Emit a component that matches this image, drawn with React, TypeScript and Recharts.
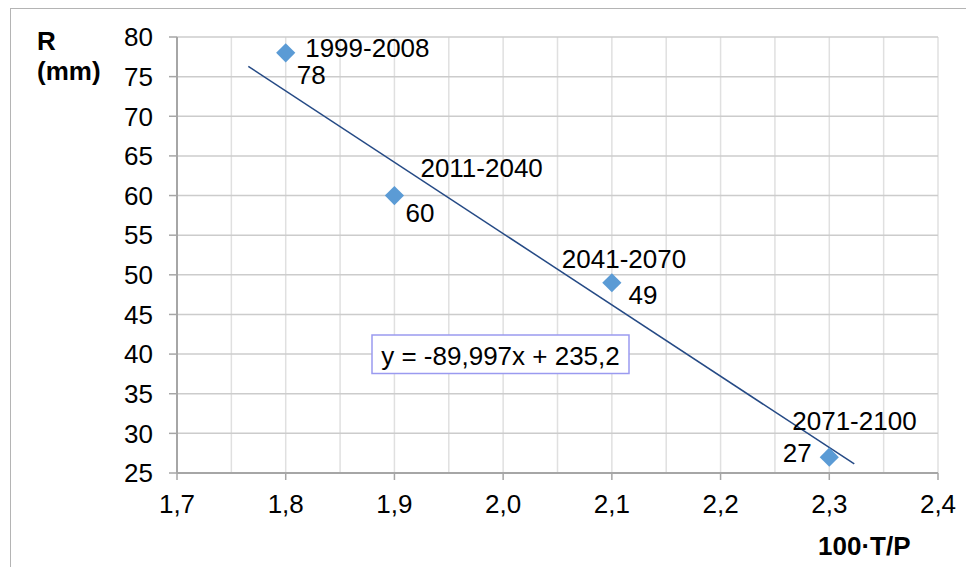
import React from "react";
import {
  ScatterChart,
  Scatter,
  XAxis,
  YAxis,
  CartesianGrid,
  ReferenceLine,
} from "recharts";

// data
const periods = ["1999-2008", "2011-2040", "2041-2070", "2071-2100"];
const tpValues = [1.8, 1.9, 2.1, 2.3];
const rValues = [78, 60, 49, 27];

const xTicks = [1.7, 1.75, 1.8, 1.85, 1.9, 1.95, 2.0, 2.05, 2.1, 2.15, 2.2, 2.25, 2.3, 2.35, 2.4];
const yTicks = [25, 30, 35, 40, 45, 50, 55, 60, 65, 70, 75, 80];

// linear trendline shown in the box
const trendSlope = -89.997;
const trendIntercept = 235.2;
const trendFrom = 1.7656;
const trendTo = 2.323;

const points = periods.map((p, i) => ({ period: p, x: tpValues[i], y: rValues[i] }));

const FONT = "'Liberation Sans', Arial, sans-serif";

// where each pair of labels sits relative to its marker
type Place = { dx: number; dy: number; anchor: "start" | "end" };
const labelPlace: Record<string, { period: Place; value: Place }> = {
  "1999-2008": { period: { dx: 19.5, dy: 3.7, anchor: "start" }, value: { dx: 11, dy: 31, anchor: "start" } },
  "2011-2040": { period: { dx: 26, dy: -19, anchor: "start" }, value: { dx: 11, dy: 26, anchor: "start" } },
  "2041-2070": { period: { dx: -50, dy: -15, anchor: "start" }, value: { dx: 16.6, dy: 21.6, anchor: "start" } },
  "2071-2100": { period: { dx: -37, dy: -26.7, anchor: "start" }, value: { dx: -17.5, dy: 5, anchor: "end" } },
};

const fmt = (v: number) => v.toFixed(1).replace(".", ",");

const DiamondPoint = (props: any) => {
  const { cx, cy, payload } = props;
  const r = 9.6;
  const pl = labelPlace[payload.period];
  return (
    <g>
      <path
        d={`M${cx},${cy - r}L${cx + r},${cy}L${cx},${cy + r}L${cx - r},${cy}Z`}
        fill="#5b9bd5"
      />
      <text x={cx + pl.period.dx} y={cy + pl.period.dy} textAnchor={pl.period.anchor} fontSize={26} fontFamily={FONT} fill="#000">
        {payload.period}
      </text>
      <text x={cx + pl.value.dx} y={cy + pl.value.dy} textAnchor={pl.value.anchor} fontSize={26} fontFamily={FONT} fill="#000">
        {payload.y}
      </text>
    </g>
  );
};

const XTick = (props: any) => {
  const { x, y, payload } = props;
  const v = payload.value as number;
  if (Math.round(v * 100) % 10 !== 0) return <g />; // minor ticks: grid only
  return (
    <g>
      <line x1={x} y1={y} x2={x} y2={y + 7} stroke="#a6a6a6" strokeWidth={1.5} />
      <text x={x} y={y + 40} textAnchor="middle" fontSize={26} fontFamily={FONT} fill="#000">
        {fmt(v)}
      </text>
    </g>
  );
};

export default function App() {
  return (
    <div style={{ position: "relative", width: 966, height: 559, overflow: "hidden", background: "#fff" }}>
      <div
        style={{
          position: "absolute",
          left: 2,
          top: 0,
          width: 970,
          height: 600,
          borderTop: "1px solid #b4b4b4",
          borderLeft: "1px solid #b4b4b4",
          boxSizing: "border-box",
        }}
      />
      <ScatterChart width={966} height={559} margin={{ top: 29, right: 36, bottom: 44, left: 0 }}>
        <CartesianGrid horizontal={false} vertical={true} stroke="#e0e0e0" strokeWidth={1.5} />
        <CartesianGrid horizontal={true} vertical={false} stroke="#cccccc" strokeWidth={1.5} />
        <XAxis
          type="number"
          dataKey="x"
          domain={[1.7, 2.4]}
          ticks={xTicks}
          interval={0}
          tickSize={0}
          tickMargin={0}
          tickLine={false}
          tick={<XTick />}
          axisLine={{ stroke: "#a6a6a6", strokeWidth: 2 }}
          height={50}
          allowDataOverflow
        />
        <YAxis
          type="number"
          dataKey="y"
          domain={[25, 80]}
          ticks={yTicks}
          interval={0}
          width={169}
          tickSize={8}
          tickMargin={16}
          tick={{ fill: "#000", fontSize: 26, fontFamily: FONT }}
          tickLine={{ stroke: "#a6a6a6", strokeWidth: 1.5 }}
          axisLine={{ stroke: "#a6a6a6", strokeWidth: 2 }}
          allowDataOverflow
        />
        <Scatter data={points} shape={<DiamondPoint />} isAnimationActive={false} />
        <ReferenceLine
          segment={[
            { x: trendFrom, y: trendSlope * trendFrom + trendIntercept },
            { x: trendTo, y: trendSlope * trendTo + trendIntercept },
          ]}
          stroke="#254a85"
          strokeWidth={1.5}
        />
      </ScatterChart>
      <svg
        width={966}
        height={559}
        style={{ position: "absolute", left: 0, top: 0, pointerEvents: "none" }}
        fontFamily={FONT}
      >
        <text x={29} y={42} fontSize={26} fontWeight="bold">R</text>
        <text x={29} y={72} fontSize={26} fontWeight="bold">(mm)</text>
        <text x={810} y={547} fontSize={26} fontWeight="bold">100·T/P</text>
        <rect x={364} y={327} width={257} height={38.5} fill="#fff" stroke="#9a9af0" strokeWidth={1.5} />
        <text x={492.5} y={357} fontSize={26} textAnchor="middle">y = -89,997x + 235,2</text>
      </svg>
    </div>
  );
}
